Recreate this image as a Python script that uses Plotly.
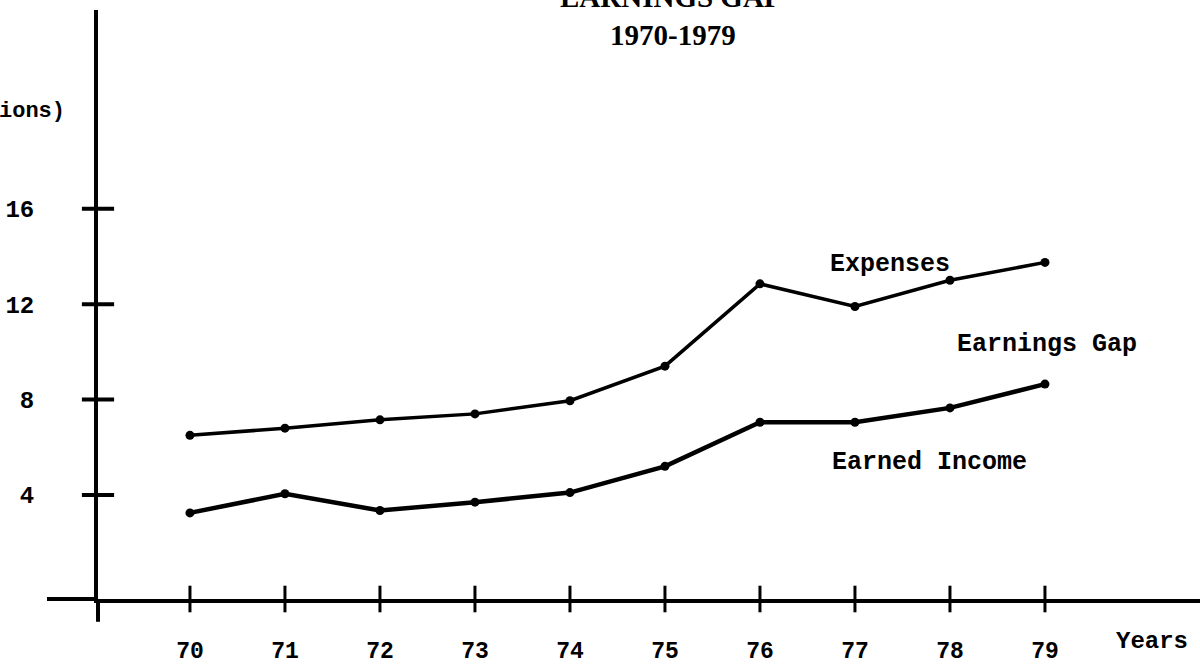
import plotly.graph_objects as go

# Fiscal years (19xx) and values in millions of dollars
years = [70, 71, 72, 73, 74, 75, 76, 77, 78, 79]
year_labels = ["70", "71", "72", "73", "74", "75", "76", "77", "78", "79"]
expenses = [6.5, 6.8, 7.15, 7.4, 7.95, 9.4, 12.85, 11.9, 13.0, 13.75]
earned_income = [3.25, 4.05, 3.35, 3.7, 4.1, 5.2, 7.05, 7.05, 7.65, 8.65]
y_ticks = [4, 8, 12, 16]
y_tick_labels = ["4", "8", "12", "16"]

W, H = 1200, 665
M_L, M_R, M_T, M_B = 98, 0, 10, 60
PLOT_W = W - M_L - M_R
PLOT_H = H - M_T - M_B

X_RANGE = [69.032, 80.632]
Y_RANGE = [-0.36, 24.33]

MONO = "Liberation Mono"
SERIF = "Liberation Serif"
INK = "#000000"


def px_x(p):
    """Horizontal pixel -> paper fraction."""
    return (p - M_L) / PLOT_W


def px_y(p):
    """Vertical pixel -> paper fraction."""
    return (H - M_B - p) / PLOT_H


fig = go.Figure()

for name, vals, lw in [("Expenses", expenses, 3.5), ("Earned Income", earned_income, 4.5)]:
    fig.add_trace(go.Scatter(
        x=years, y=vals, name=name, mode="lines+markers",
        line=dict(color=INK, width=lw),
        marker=dict(color=INK, size=9),
        showlegend=False, hoverinfo="skip",
    ))

# tick marks that cross the axis lines
fig.add_trace(go.Scatter(
    x=years, y=[Y_RANGE[0]] * len(years), mode="markers", cliponaxis=False,
    marker=dict(symbol="line-ns-open", size=19, color=INK, line=dict(color=INK, width=3)),
    showlegend=False, hoverinfo="skip",
))
fig.add_trace(go.Scatter(
    x=[X_RANGE[0]] * len(y_ticks), y=y_ticks, mode="markers", cliponaxis=False,
    marker=dict(symbol="line-ew-open", size=23, color=INK, line=dict(color=INK, width=4)),
    showlegend=False, hoverinfo="skip",
))

axis_common = dict(showgrid=False, zeroline=False, tickcolor="rgba(0,0,0,0)")

fig.update_layout(
    width=W, height=H, autosize=False,
    margin=dict(l=M_L, r=M_R, t=M_T, b=M_B, pad=0),
    paper_bgcolor="white", plot_bgcolor="white",
    xaxis=dict(
        range=X_RANGE, tickmode="array", tickvals=years, ticktext=year_labels,
        ticks="outside", ticklen=11, tickwidth=3,
        showline=True, linewidth=4, linecolor=INK,
        tickfont=dict(family=MONO, size=23, color=INK, weight="bold"),
        ticklabelstandoff=16, **axis_common,
    ),
    yaxis=dict(
        range=Y_RANGE, tickmode="array", tickvals=y_ticks, ticktext=y_tick_labels,
        ticks="outside", ticklen=15, tickwidth=4,
        showline=True, linewidth=4, linecolor=INK,
        tickfont=dict(family=MONO, size=24, color=INK, weight="bold"),
        ticklabelstandoff=40, **axis_common,
    ),
)

# axis lines run a little past the point where they cross
fig.add_shape(type="line", xref="paper", yref="paper",
              x0=px_x(47), x1=0, y0=0, y1=0, line=dict(color=INK, width=4))
fig.add_shape(type="line", xref="paper", yref="paper",
              x0=0, x1=0, y0=0, y1=px_y(628), line=dict(color=INK, width=4))

# title
fig.add_annotation(text="EARNINGS GAP", xref="paper", yref="paper",
                   x=px_x(671), y=px_y(-3), xanchor="center", yanchor="middle",
                   showarrow=False, font=dict(family=SERIF, size=29, color=INK, weight="bold"))
fig.add_annotation(text="1970-1979", xref="paper", yref="paper",
                   x=px_x(673), y=px_y(35), xanchor="center", yanchor="middle",
                   showarrow=False, font=dict(family=SERIF, size=29, color=INK, weight="bold"))

# axis captions
fig.add_annotation(text="(Millions)", xref="paper", yref="paper",
                   x=px_x(67), y=px_y(113), xanchor="right", yanchor="middle",
                   showarrow=False, font=dict(family=MONO, size=22, color=INK, weight="bold"))
fig.add_annotation(text="Years", xref="paper", yref="paper",
                   x=px_x(1152), y=px_y(648), xanchor="center", yanchor="middle",
                   showarrow=False, font=dict(family=MONO, size=24, color=INK, weight="bold"))

# series captions
label_font = dict(family=MONO, size=25, color=INK, weight="bold")
fig.add_annotation(text="Expenses", x=76.72, y=13.66, xanchor="left", yanchor="middle",
                   showarrow=False, font=label_font)
fig.add_annotation(text="Earnings Gap", x=78.05, y=10.3, xanchor="left", yanchor="middle",
                   showarrow=False, font=label_font)
fig.add_annotation(text="Earned Income", x=76.74, y=5.37, xanchor="left", yanchor="middle",
                   showarrow=False, font=label_font)

fig.write_html("out.html")
